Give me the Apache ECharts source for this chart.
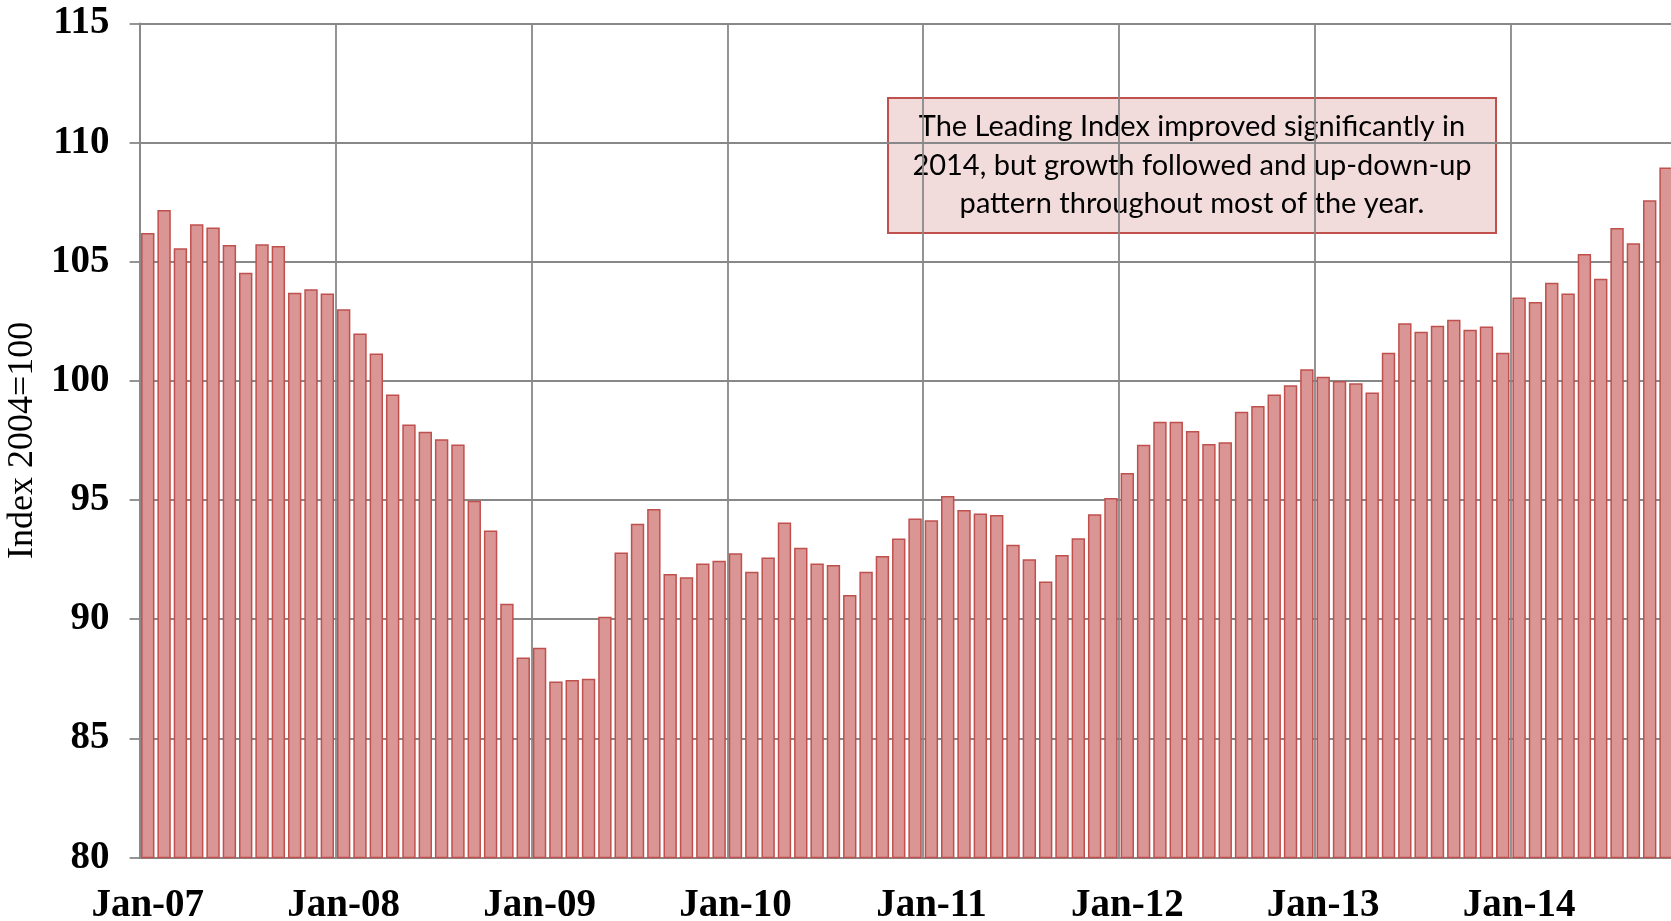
<!DOCTYPE html>
<html>
<head>
<meta charset="utf-8">
<title>Leading Index</title>
<script src="https://cdn.jsdelivr.net/npm/echarts@6/dist/echarts.min.js"></script>
<style>
html, body { margin: 0; padding: 0; background: #fff; }
#chart { width: 1671px; height: 921px; }
</style>
</head>
<body>
<div id="chart"></div>
<script>
// month labels, Jan-07 .. Oct-14 (the picture is cut after Oct-14)
var years = ['07', '08', '09', '10', '11', '12', '13', '14'];
var monthNames = ['Jan', 'Feb', 'Mar', 'Apr', 'May', 'Jun', 'Jul', 'Aug', 'Sep', 'Oct', 'Nov', 'Dec'];

var idx2007 = [106.2, 107.17, 105.57, 106.57, 106.44, 105.7, 104.54, 105.73, 105.66, 103.7, 103.84, 103.67];
var idx2008 = [103.01, 101.99, 101.15, 99.43, 98.17, 97.87, 97.55, 97.33, 94.97, 93.72, 90.65, 88.39];
var idx2009 = [88.8, 87.38, 87.45, 87.5, 90.1, 92.8, 94.0, 94.62, 91.9, 91.76, 92.34, 92.45];
var idx2010 = [92.77, 91.99, 92.59, 94.06, 93.0, 92.34, 92.27, 91.01, 91.99, 92.65, 93.39, 94.22];
var idx2011 = [94.15, 95.17, 94.58, 94.43, 94.37, 93.12, 92.51, 91.58, 92.69, 93.4, 94.4, 95.08];
var idx2012 = [96.13, 97.32, 98.28, 98.28, 97.9, 97.35, 97.42, 98.7, 98.95, 99.43, 99.82, 100.49];
var idx2013 = [100.17, 99.99, 99.9, 99.51, 101.18, 102.42, 102.06, 102.31, 102.56, 102.14, 102.28, 101.18];
var idx2014 = [103.5, 103.31, 104.12, 103.67, 105.32, 104.29, 106.41, 105.77, 107.58, 108.95];

var yTicks = [80, 85, 90, 95, 100, 105, 110, 115];

var note = 'The Leading Index improved significantly in\n2014, but growth followed and up-down-up\npattern throughout most of the year.';

var values = [].concat(idx2007, idx2008, idx2009, idx2010, idx2011, idx2012, idx2013, idx2014);
var months = [];
years.forEach(function (y) {
    monthNames.forEach(function (m) {
        if (months.length < values.length) months.push(m + '-' + y);
    });
});

var gridColor = '#888888';

var chart = echarts.init(document.getElementById('chart'));

var option = {
    animation: false,
    grid: {
        left: 139.6,
        right: -3.2,
        top: 23.4,
        bottom: 63.5,
        outerBoundsMode: 'none'
    },
    xAxis: {
        type: 'category',
        data: months,
        axisLine: { lineStyle: { color: gridColor, width: 2 } },
        axisTick: {
            interval: 11,
            length: 10,
            lineStyle: { color: gridColor, width: 1.8 }
        },
        splitLine: {
            show: true,
            interval: 11,
            lineStyle: { color: gridColor, width: 1.8 }
        },
        axisLabel: {
            interval: 11,
            margin: 29,
            color: '#000',
            fontFamily: 'Liberation Serif',
            fontWeight: 'bold',
            fontSize: 39
        }
    },
    yAxis: {
        type: 'value',
        min: yTicks[0],
        max: yTicks[yTicks.length - 1],
        interval: 5,
        name: 'Index 2004=100',
        nameLocation: 'middle',
        nameGap: 94,
        nameRotate: 90,
        nameTextStyle: {
            color: '#000',
            fontFamily: 'Liberation Serif',
            fontSize: 36
        },
        axisLine: { show: true, lineStyle: { color: gridColor, width: 1.8 } },
        axisTick: { show: true, length: 10, lineStyle: { color: gridColor, width: 1.8 } },
        splitLine: { lineStyle: { color: gridColor, width: 1.8 } },
        axisLabel: {
            margin: 30,
            color: '#000',
            fontFamily: 'Liberation Serif',
            fontWeight: 'bold',
            fontSize: 39
        }
    },
    series: [{
        type: 'bar',
        data: values,
        barCategoryGap: '18%',
        itemStyle: {
            color: '#d99694',
            borderColor: '#c0504d',
            borderWidth: 1.5
        }
    }],
    graphic: [{
        type: 'group',
        left: 887,
        top: 97,
        children: [{
            type: 'rect',
            shape: { x: 0, y: 0, width: 608, height: 135 },
            style: { fill: '#f2dcdb', stroke: '#c0504d', lineWidth: 2 }
        }, {
            type: 'text',
            x: 304,
            y: 67.5,
            style: {
                text: note,
                align: 'center',
                verticalAlign: 'middle',
                fill: '#000',
                font: '29px Lato',
                lineHeight: 38.4
            }
        }]
    }]
};

chart.setOption(option);
</script>
</body>
</html>
